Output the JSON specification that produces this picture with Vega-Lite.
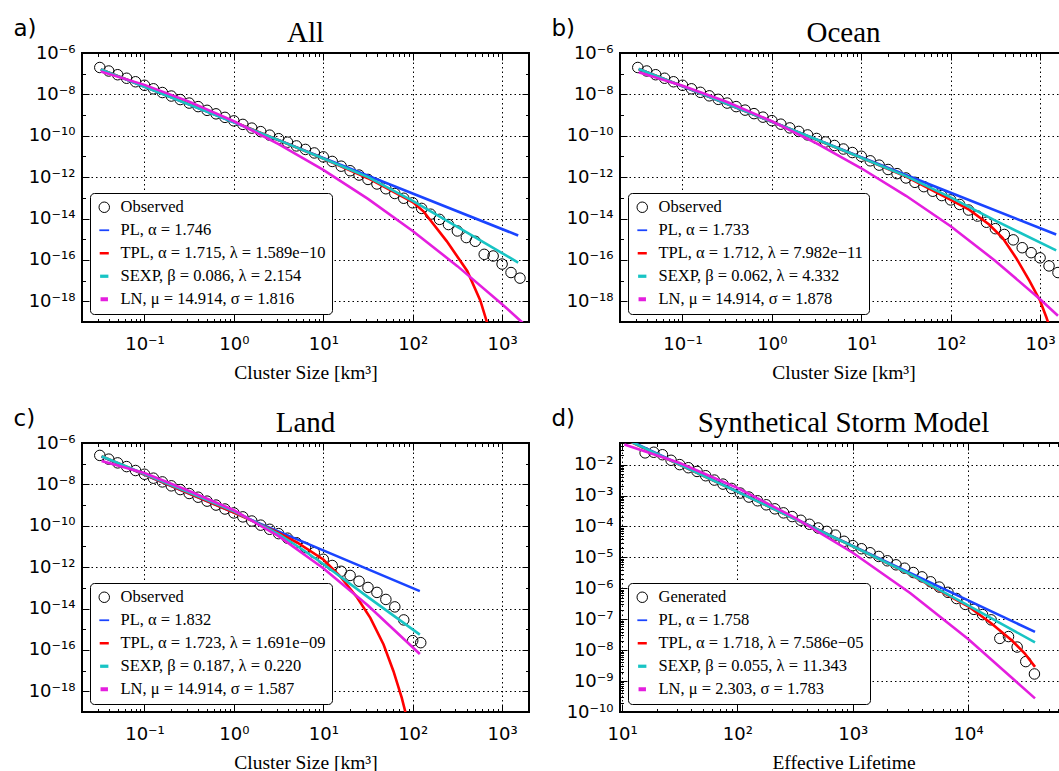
{
"$schema": "https://vega.github.io/schema/vega-lite/v6.json",
"background": "white",
"padding": {"left": 12, "top": 16, "right": 0, "bottom": 0},
"datasets": {
"a_obs": [
{"s":"Observed","x":0.03162,"y":1.995e-7},{"s":"Observed","x":0.03981,"y":1.349e-7},{"s":"Observed","x":0.05012,"y":8.913e-8},{"s":"Observed","x":0.0631,"y":6.026e-8},{"s":"Observed","x":0.07943,"y":4.074e-8},{"s":"Observed","x":0.1,"y":2.754e-8},{"s":"Observed","x":0.1259,"y":1.862e-8},{"s":"Observed","x":0.1585,"y":1.23e-8},{"s":"Observed","x":0.1995,"y":8.318e-9},{"s":"Observed","x":0.2512,"y":5.623e-9},{"s":"Observed","x":0.3162,"y":3.802e-9},{"s":"Observed","x":0.3981,"y":2.57e-9},{"s":"Observed","x":0.5012,"y":1.698e-9},{"s":"Observed","x":0.631,"y":1.148e-9},{"s":"Observed","x":0.7943,"y":7.762e-10},{"s":"Observed","x":1,"y":5.248e-10},{"s":"Observed","x":1.259,"y":3.548e-10},{"s":"Observed","x":1.585,"y":2.344e-10},{"s":"Observed","x":1.995,"y":1.585e-10},{"s":"Observed","x":2.512,"y":1.072e-10},{"s":"Observed","x":3.162,"y":7.244e-11},{"s":"Observed","x":3.981,"y":4.898e-11},{"s":"Observed","x":5.012,"y":3.236e-11},{"s":"Observed","x":6.31,"y":2.188e-11},{"s":"Observed","x":7.943,"y":1.479e-11},{"s":"Observed","x":10,"y":9.55e-12},{"s":"Observed","x":12.59,"y":5.754e-12},{"s":"Observed","x":15.85,"y":3.388e-12},{"s":"Observed","x":19.95,"y":2.042e-12},{"s":"Observed","x":25.12,"y":1.259e-12},{"s":"Observed","x":31.62,"y":7.762e-13},{"s":"Observed","x":39.81,"y":4.677e-13},{"s":"Observed","x":50.12,"y":2.754e-13},{"s":"Observed","x":63.1,"y":1.622e-13},{"s":"Observed","x":79.43,"y":9.55e-14},{"s":"Observed","x":100,"y":5.754e-14},{"s":"Observed","x":125.9,"y":3.09e-14},{"s":"Observed","x":158.5,"y":1.622e-14},{"s":"Observed","x":199.5,"y":9.12e-15},{"s":"Observed","x":251.2,"y":5.129e-15},{"s":"Observed","x":316.2,"y":2.512e-15},{"s":"Observed","x":398.1,"y":1.202e-15},{"s":"Observed","x":501.2,"y":7.943e-16},{"s":"Observed","x":631,"y":1.862e-16},{"s":"Observed","x":794.3,"y":1.549e-16},{"s":"Observed","x":1000,"y":6.31e-17},{"s":"Observed","x":1259,"y":2.455e-17},{"s":"Observed","x":1585,"y":1.318e-17}
],
"a_fit": [
{"s":"PL, α = 1.746","x":0.03243,"y":1.622e-7},{"s":"PL, α = 1.746","x":1,"y":4.467e-10},{"s":"PL, α = 1.746","x":10,"y":8.511e-12},{"s":"PL, α = 1.746","x":100,"y":1.622e-13},{"s":"PL, α = 1.746","x":1514,"y":1.514e-15},
{"s":"TPL, α = 1.715, λ = 1.589e−10","x":0.03243,"y":1.622e-7},{"s":"TPL, α = 1.715, λ = 1.589e−10","x":0.1,"y":2.399e-8},{"s":"TPL, α = 1.715, λ = 1.589e−10","x":1,"y":4.677e-10},{"s":"TPL, α = 1.715, λ = 1.589e−10","x":10,"y":7.943e-12},{"s":"TPL, α = 1.715, λ = 1.589e−10","x":31.62,"y":8.913e-13},{"s":"TPL, α = 1.715, λ = 1.589e−10","x":100,"y":6.31e-14},{"s":"TPL, α = 1.715, λ = 1.589e−10","x":131.8,"y":2.239e-14},{"s":"TPL, α = 1.715, λ = 1.589e−10","x":239.9,"y":8.128e-16},{"s":"TPL, α = 1.715, λ = 1.589e−10","x":407.4,"y":2.951e-17},{"s":"TPL, α = 1.715, λ = 1.589e−10","x":571.5,"y":1.072e-18},{"s":"TPL, α = 1.715, λ = 1.589e−10","x":676.1,"y":1e-19},{"s":"TPL, α = 1.715, λ = 1.589e−10","x":758.6,"y":1.585e-20},
{"s":"SEXP, β = 0.086, λ = 2.154","x":0.03243,"y":1.622e-7},{"s":"SEXP, β = 0.086, λ = 2.154","x":0.1,"y":2.344e-8},{"s":"SEXP, β = 0.086, λ = 2.154","x":1,"y":4.467e-10},{"s":"SEXP, β = 0.086, λ = 2.154","x":3.162,"y":6.166e-11},{"s":"SEXP, β = 0.086, λ = 2.154","x":10,"y":7.943e-12},{"s":"SEXP, β = 0.086, λ = 2.154","x":31.62,"y":1e-12},{"s":"SEXP, β = 0.086, λ = 2.154","x":100,"y":7.079e-14},{"s":"SEXP, β = 0.086, λ = 2.154","x":316.2,"y":3.981e-15},{"s":"SEXP, β = 0.086, λ = 2.154","x":1514,"y":7.413e-17},
{"s":"LN, μ = 14.914, σ = 1.816","x":0.03243,"y":1.288e-7},{"s":"LN, μ = 14.914, σ = 1.816","x":0.1,"y":2.884e-8},{"s":"LN, μ = 14.914, σ = 1.816","x":0.3162,"y":4.467e-9},{"s":"LN, μ = 14.914, σ = 1.816","x":1,"y":5.012e-10},{"s":"LN, μ = 14.914, σ = 1.816","x":3.162,"y":3.981e-11},{"s":"LN, μ = 14.914, σ = 1.816","x":10,"y":2.239e-12},{"s":"LN, μ = 14.914, σ = 1.816","x":31.62,"y":8.913e-14},{"s":"LN, μ = 14.914, σ = 1.816","x":100,"y":2.512e-15},{"s":"LN, μ = 14.914, σ = 1.816","x":316.2,"y":5.012e-17},{"s":"LN, μ = 14.914, σ = 1.816","x":1000,"y":7.244e-19},{"s":"LN, μ = 14.914, σ = 1.816","x":1995,"y":4.898e-20}
],
"b_obs": [
{"s":"Observed","x":0.03162,"y":1.995e-7},{"s":"Observed","x":0.03981,"y":1.349e-7},{"s":"Observed","x":0.05012,"y":8.913e-8},{"s":"Observed","x":0.0631,"y":6.026e-8},{"s":"Observed","x":0.07943,"y":4.074e-8},{"s":"Observed","x":0.1,"y":2.754e-8},{"s":"Observed","x":0.1259,"y":1.862e-8},{"s":"Observed","x":0.1585,"y":1.259e-8},{"s":"Observed","x":0.1995,"y":8.511e-9},{"s":"Observed","x":0.2512,"y":5.754e-9},{"s":"Observed","x":0.3162,"y":3.802e-9},{"s":"Observed","x":0.3981,"y":2.57e-9},{"s":"Observed","x":0.5012,"y":1.738e-9},{"s":"Observed","x":0.631,"y":1.175e-9},{"s":"Observed","x":0.7943,"y":7.943e-10},{"s":"Observed","x":1,"y":5.37e-10},{"s":"Observed","x":1.259,"y":3.631e-10},{"s":"Observed","x":1.585,"y":2.399e-10},{"s":"Observed","x":1.995,"y":1.622e-10},{"s":"Observed","x":2.512,"y":1.096e-10},{"s":"Observed","x":3.162,"y":7.413e-11},{"s":"Observed","x":3.981,"y":5.012e-11},{"s":"Observed","x":5.012,"y":3.388e-11},{"s":"Observed","x":6.31,"y":2.291e-11},{"s":"Observed","x":7.943,"y":1.549e-11},{"s":"Observed","x":10,"y":1.023e-11},{"s":"Observed","x":12.59,"y":6.166e-12},{"s":"Observed","x":15.85,"y":3.802e-12},{"s":"Observed","x":19.95,"y":2.344e-12},{"s":"Observed","x":25.12,"y":1.479e-12},{"s":"Observed","x":31.62,"y":9.12e-13},{"s":"Observed","x":39.81,"y":5.623e-13},{"s":"Observed","x":50.12,"y":3.467e-13},{"s":"Observed","x":63.1,"y":2.089e-13},{"s":"Observed","x":79.43,"y":1.288e-13},{"s":"Observed","x":100,"y":7.943e-14},{"s":"Observed","x":125.9,"y":4.786e-14},{"s":"Observed","x":158.5,"y":2.57e-14},{"s":"Observed","x":199.5,"y":1.318e-14},{"s":"Observed","x":251.2,"y":6.607e-15},{"s":"Observed","x":316.2,"y":3.236e-15},{"s":"Observed","x":398.1,"y":1.698e-15},{"s":"Observed","x":501.2,"y":9.333e-16},{"s":"Observed","x":631,"y":3.89e-16},{"s":"Observed","x":794.3,"y":2.239e-16},{"s":"Observed","x":1000,"y":1.259e-16},{"s":"Observed","x":1259,"y":5.129e-17},{"s":"Observed","x":1585,"y":2.455e-17}
],
"b_fit": [
{"s":"PL, α = 1.733","x":0.03236,"y":1.698e-7},{"s":"PL, α = 1.733","x":1,"y":4.786e-10},{"s":"PL, α = 1.733","x":10,"y":9.12e-12},{"s":"PL, α = 1.733","x":100,"y":1.778e-13},{"s":"PL, α = 1.733","x":1514,"y":1.698e-15},
{"s":"TPL, α = 1.712, λ = 7.982e−11","x":0.03236,"y":1.698e-7},{"s":"TPL, α = 1.712, λ = 7.982e−11","x":0.1,"y":2.512e-8},{"s":"TPL, α = 1.712, λ = 7.982e−11","x":1,"y":4.786e-10},{"s":"TPL, α = 1.712, λ = 7.982e−11","x":10,"y":8.71e-12},{"s":"TPL, α = 1.712, λ = 7.982e−11","x":31.62,"y":1.072e-12},{"s":"TPL, α = 1.712, λ = 7.982e−11","x":100,"y":7.943e-14},{"s":"TPL, α = 1.712, λ = 7.982e−11","x":160.7,"y":2.692e-14},{"s":"TPL, α = 1.712, λ = 7.982e−11","x":269.2,"y":5.129e-15},{"s":"TPL, α = 1.712, λ = 7.982e−11","x":380.2,"y":1.175e-15},{"s":"TPL, α = 1.712, λ = 7.982e−11","x":537,"y":1.288e-16},{"s":"TPL, α = 1.712, λ = 7.982e−11","x":758.6,"y":1e-17},{"s":"TPL, α = 1.712, λ = 7.982e−11","x":1000,"y":1.072e-18},{"s":"TPL, α = 1.712, λ = 7.982e−11","x":1175,"y":1.698e-19},{"s":"TPL, α = 1.712, λ = 7.982e−11","x":1318,"y":3.981e-20},
{"s":"SEXP, β = 0.062, λ = 4.332","x":0.03236,"y":1.698e-7},{"s":"SEXP, β = 0.062, λ = 4.332","x":0.1,"y":2.512e-8},{"s":"SEXP, β = 0.062, λ = 4.332","x":1,"y":4.786e-10},{"s":"SEXP, β = 0.062, λ = 4.332","x":3.162,"y":6.607e-11},{"s":"SEXP, β = 0.062, λ = 4.332","x":10,"y":8.71e-12},{"s":"SEXP, β = 0.062, λ = 4.332","x":31.62,"y":1.122e-12},{"s":"SEXP, β = 0.062, λ = 4.332","x":100,"y":1.047e-13},{"s":"SEXP, β = 0.062, λ = 4.332","x":316.2,"y":7.943e-15},{"s":"SEXP, β = 0.062, λ = 4.332","x":1514,"y":2.884e-16},
{"s":"LN, μ = 14.914, σ = 1.878","x":0.03236,"y":1.175e-7},{"s":"LN, μ = 14.914, σ = 1.878","x":0.1,"y":2.63e-8},{"s":"LN, μ = 14.914, σ = 1.878","x":0.3162,"y":4.266e-9},{"s":"LN, μ = 14.914, σ = 1.878","x":1,"y":5.012e-10},{"s":"LN, μ = 14.914, σ = 1.878","x":3.162,"y":4.266e-11},{"s":"LN, μ = 14.914, σ = 1.878","x":10,"y":2.692e-12},{"s":"LN, μ = 14.914, σ = 1.878","x":31.62,"y":1.259e-13},{"s":"LN, μ = 14.914, σ = 1.878","x":100,"y":4.266e-15},{"s":"LN, μ = 14.914, σ = 1.878","x":316.2,"y":8.913e-17},{"s":"LN, μ = 14.914, σ = 1.878","x":1000,"y":1.259e-18},{"s":"LN, μ = 14.914, σ = 1.878","x":1585,"y":1.995e-19}
],
"c_obs": [
{"s":"Observed","x":0.03162,"y":2.512e-7},{"s":"Observed","x":0.03981,"y":1.66e-7},{"s":"Observed","x":0.05012,"y":1.096e-7},{"s":"Observed","x":0.0631,"y":7.244e-8},{"s":"Observed","x":0.07943,"y":4.677e-8},{"s":"Observed","x":0.1,"y":3.09e-8},{"s":"Observed","x":0.1259,"y":1.995e-8},{"s":"Observed","x":0.1585,"y":1.318e-8},{"s":"Observed","x":0.1995,"y":8.511e-9},{"s":"Observed","x":0.2512,"y":5.623e-9},{"s":"Observed","x":0.3162,"y":3.631e-9},{"s":"Observed","x":0.3981,"y":2.399e-9},{"s":"Observed","x":0.5012,"y":1.549e-9},{"s":"Observed","x":0.631,"y":1e-9},{"s":"Observed","x":0.7943,"y":6.457e-10},{"s":"Observed","x":1,"y":4.169e-10},{"s":"Observed","x":1.259,"y":2.692e-10},{"s":"Observed","x":1.585,"y":1.698e-10},{"s":"Observed","x":1.995,"y":1.072e-10},{"s":"Observed","x":2.512,"y":6.761e-11},{"s":"Observed","x":3.162,"y":4.169e-11},{"s":"Observed","x":3.981,"y":2.512e-11},{"s":"Observed","x":5.012,"y":1.514e-11},{"s":"Observed","x":6.31,"y":8.913e-12},{"s":"Observed","x":7.943,"y":5.012e-12},{"s":"Observed","x":10,"y":2.399e-12},{"s":"Observed","x":12.59,"y":1.202e-12},{"s":"Observed","x":15.85,"y":6.31e-13},{"s":"Observed","x":19.95,"y":3.981e-13},{"s":"Observed","x":25.12,"y":2.089e-13},{"s":"Observed","x":31.62,"y":1.047e-13},{"s":"Observed","x":39.81,"y":6.026e-14},{"s":"Observed","x":50.12,"y":2.754e-14},{"s":"Observed","x":63.1,"y":1.202e-14},{"s":"Observed","x":79.43,"y":2.818e-15},{"s":"Observed","x":100,"y":2.818e-16},{"s":"Observed","x":123,"y":2.239e-16}
],
"c_fit": [
{"s":"PL, α = 1.832","x":0.03311,"y":2.188e-7},{"s":"PL, α = 1.832","x":1,"y":4.365e-10},{"s":"PL, α = 1.832","x":10,"y":6.457e-12},{"s":"PL, α = 1.832","x":120.2,"y":6.918e-14},
{"s":"TPL, α = 1.723, λ = 1.691e−09","x":0.03311,"y":2.291e-7},{"s":"TPL, α = 1.723, λ = 1.691e−09","x":0.1,"y":3.02e-8},{"s":"TPL, α = 1.723, λ = 1.691e−09","x":1,"y":4.365e-10},{"s":"TPL, α = 1.723, λ = 1.691e−09","x":3.162,"y":4.467e-11},{"s":"TPL, α = 1.723, λ = 1.691e−09","x":5.14,"y":1.514e-11},{"s":"TPL, α = 1.723, λ = 1.691e−09","x":10,"y":2.344e-12},{"s":"TPL, α = 1.723, λ = 1.691e−09","x":15.49,"y":3.548e-13},{"s":"TPL, α = 1.723, λ = 1.691e−09","x":23.99,"y":3.311e-14},{"s":"TPL, α = 1.723, λ = 1.691e−09","x":33.57,"y":3.548e-15},{"s":"TPL, α = 1.723, λ = 1.691e−09","x":47.21,"y":1.82e-16},{"s":"TPL, α = 1.723, λ = 1.691e−09","x":60.95,"y":9.333e-18},{"s":"TPL, α = 1.723, λ = 1.691e−09","x":75.51,"y":4.786e-19},{"s":"TPL, α = 1.723, λ = 1.691e−09","x":85.11,"y":6.31e-20},{"s":"TPL, α = 1.723, λ = 1.691e−09","x":91.2,"y":1.585e-20},
{"s":"SEXP, β = 0.187, λ = 0.220","x":0.03311,"y":2.291e-7},{"s":"SEXP, β = 0.187, λ = 0.220","x":0.1,"y":3.162e-8},{"s":"SEXP, β = 0.187, λ = 0.220","x":0.3162,"y":3.981e-9},{"s":"SEXP, β = 0.187, λ = 0.220","x":1,"y":5.012e-10},{"s":"SEXP, β = 0.187, λ = 0.220","x":3.162,"y":3.981e-11},{"s":"SEXP, β = 0.187, λ = 0.220","x":5.623,"y":7.943e-12},{"s":"SEXP, β = 0.187, λ = 0.220","x":10,"y":1.413e-12},{"s":"SEXP, β = 0.187, λ = 0.220","x":31.62,"y":3.548e-14},{"s":"SEXP, β = 0.187, λ = 0.220","x":120.2,"y":5.495e-16},
{"s":"LN, μ = 14.914, σ = 1.587","x":0.03311,"y":1.349e-7},{"s":"LN, μ = 14.914, σ = 1.587","x":0.1,"y":3.548e-8},{"s":"LN, μ = 14.914, σ = 1.587","x":0.3162,"y":4.786e-9},{"s":"LN, μ = 14.914, σ = 1.587","x":1,"y":5.623e-10},{"s":"LN, μ = 14.914, σ = 1.587","x":3.162,"y":3.162e-11},{"s":"LN, μ = 14.914, σ = 1.587","x":10,"y":8.913e-13},{"s":"LN, μ = 14.914, σ = 1.587","x":31.62,"y":1.413e-14},{"s":"LN, μ = 14.914, σ = 1.587","x":120.2,"y":6.31e-17}
],
"d_obs": [
{"s":"Generated","x":15.85,"y":2.399e-2},{"s":"Generated","x":18.84,"y":2.512e-2},{"s":"Generated","x":22.39,"y":2.089e-2},{"s":"Generated","x":26.61,"y":1.38e-2},{"s":"Generated","x":31.62,"y":1e-2},{"s":"Generated","x":37.58,"y":7.943e-3},{"s":"Generated","x":44.67,"y":6.026e-3},{"s":"Generated","x":53.09,"y":4.365e-3},{"s":"Generated","x":63.1,"y":3.162e-3},{"s":"Generated","x":74.99,"y":2.344e-3},{"s":"Generated","x":89.13,"y":1.698e-3},{"s":"Generated","x":105.9,"y":1.202e-3},{"s":"Generated","x":125.9,"y":8.913e-4},{"s":"Generated","x":149.6,"y":6.761e-4},{"s":"Generated","x":177.8,"y":5.012e-4},{"s":"Generated","x":211.3,"y":3.715e-4},{"s":"Generated","x":251.2,"y":2.754e-4},{"s":"Generated","x":298.5,"y":2.089e-4},{"s":"Generated","x":354.8,"y":1.585e-4},{"s":"Generated","x":421.7,"y":1.175e-4},{"s":"Generated","x":501.2,"y":8.913e-5},{"s":"Generated","x":595.7,"y":6.918e-5},{"s":"Generated","x":707.9,"y":5.248e-5},{"s":"Generated","x":841.4,"y":3.311e-5},{"s":"Generated","x":1000,"y":2.399e-5},{"s":"Generated","x":1189,"y":1.905e-5},{"s":"Generated","x":1413,"y":1.413e-5},{"s":"Generated","x":1679,"y":1.072e-5},{"s":"Generated","x":1995,"y":7.762e-6},{"s":"Generated","x":2371,"y":5.754e-6},{"s":"Generated","x":2818,"y":4.467e-6},{"s":"Generated","x":3350,"y":3.236e-6},{"s":"Generated","x":3981,"y":2.344e-6},{"s":"Generated","x":4732,"y":1.622e-6},{"s":"Generated","x":5623,"y":1.096e-6},{"s":"Generated","x":6683,"y":7.413e-7},{"s":"Generated","x":7943,"y":4.677e-7},{"s":"Generated","x":9441,"y":3.02e-7},{"s":"Generated","x":11220,"y":2.089e-7},{"s":"Generated","x":13340,"y":1.413e-7},{"s":"Generated","x":15850,"y":9.55e-8},{"s":"Generated","x":18840,"y":2.399e-8},{"s":"Generated","x":22390,"y":2.754e-8},{"s":"Generated","x":26610,"y":1.259e-8},{"s":"Generated","x":31620,"y":4.266e-9},{"s":"Generated","x":37580,"y":1.698e-9}
],
"d_fit": [
{"s":"PL, α = 1.758","x":10.47,"y":7.161e-2},{"s":"PL, α = 1.758","x":100,"y":1.349e-3},{"s":"PL, α = 1.758","x":1000,"y":2.344e-5},{"s":"PL, α = 1.758","x":10000,"y":4.074e-7},{"s":"PL, α = 1.758","x":38020,"y":3.89e-8},
{"s":"TPL, α = 1.718, λ = 7.586e−05","x":10.47,"y":6.761e-2},{"s":"TPL, α = 1.718, λ = 7.586e−05","x":100,"y":1.318e-3},{"s":"TPL, α = 1.718, λ = 7.586e−05","x":1000,"y":2.291e-5},{"s":"TPL, α = 1.718, λ = 7.586e−05","x":3162,"y":2.754e-6},{"s":"TPL, α = 1.718, λ = 7.586e−05","x":10000,"y":2.63e-7},{"s":"TPL, α = 1.718, λ = 7.586e−05","x":15850,"y":7.413e-8},{"s":"TPL, α = 1.718, λ = 7.586e−05","x":23990,"y":2.042e-8},{"s":"TPL, α = 1.718, λ = 7.586e−05","x":30900,"y":7.943e-9},{"s":"TPL, α = 1.718, λ = 7.586e−05","x":38020,"y":2.884e-9},
{"s":"SEXP, β = 0.055, λ = 11.343","x":10.47,"y":6.918e-2},{"s":"SEXP, β = 0.055, λ = 11.343","x":100,"y":1.318e-3},{"s":"SEXP, β = 0.055, λ = 11.343","x":1000,"y":2.291e-5},{"s":"SEXP, β = 0.055, λ = 11.343","x":3162,"y":2.818e-6},{"s":"SEXP, β = 0.055, λ = 11.343","x":10000,"y":2.818e-7},{"s":"SEXP, β = 0.055, λ = 11.343","x":38020,"y":1.778e-8},
{"s":"LN, μ = 2.303, σ = 1.783","x":10.47,"y":4.467e-2},{"s":"LN, μ = 2.303, σ = 1.783","x":31.62,"y":1.122e-2},{"s":"LN, μ = 2.303, σ = 1.783","x":100,"y":1.778e-3},{"s":"LN, μ = 2.303, σ = 1.783","x":316.2,"y":1.905e-4},{"s":"LN, μ = 2.303, σ = 1.783","x":1000,"y":1.413e-5},{"s":"LN, μ = 2.303, σ = 1.783","x":3162,"y":6.918e-7},{"s":"LN, μ = 2.303, σ = 1.783","x":10000,"y":2.291e-8},{"s":"LN, μ = 2.303, σ = 1.783","x":38020,"y":2.754e-10}
]
},
"columns": 2,
"spacing": {"row": 121, "column": 91},
"bounds": "flush",
"concat": [
{
"width": 447, "height": 269,
"title": {"text": "All"},
"layer": [
{"data": {"name": "a_obs"},
"mark": {"type": "point", "filled": false, "opacity": 1},
"encoding": {
"x": {"field": "x", "type": "quantitative", "scale": {"type": "log", "domain": [0.02, 2000], "nice": false},
"axis": {"orient": "bottom", "values": [0.02,0.03,0.04,0.05,0.06,0.07,0.08,0.09,0.1,0.2,0.3,0.4,0.5,0.6,0.7,0.8,0.9,1,2,3,4,5,6,7,8,9,10,20,30,40,50,60,70,80,90,100,200,300,400,500,600,700,800,900,1000,2000],
"labelExpr": "abs(log(datum.value)/LN10-round(log(datum.value)/LN10))<0.01?'10'+replace(replace(replace(replace(replace(replace(replace(replace(replace(replace(replace(toString(round(log(datum.value)/LN10)),'-','⁻'),regexp('0','g'),'⁰'),regexp('1','g'),'¹'),regexp('2','g'),'²'),regexp('3','g'),'³'),regexp('4','g'),'⁴'),regexp('5','g'),'⁵'),regexp('6','g'),'⁶'),regexp('7','g'),'⁷'),regexp('8','g'),'⁸'),regexp('9','g'),'⁹'):''",
"tickSize": {"condition": {"test": "abs(log(datum.value)/LN10-round(log(datum.value)/LN10))<0.01", "value": -7}, "value": -3.5},
"gridOpacity": {"condition": {"test": "abs(log(datum.value)/LN10-round(log(datum.value)/LN10))<0.01", "value": 1}, "value": 0},
"title": "Cluster Size [km³]", "titleY": 56, "titleBaseline": "alphabetic", "labelPadding": 20}},
"y": {"field": "y", "type": "quantitative", "scale": {"type": "log", "domain": [1e-19, 1e-6], "nice": false},
"axis": {"orient": "left", "values": [1e-19,1e-18,1e-17,1e-16,1e-15,1e-14,1e-13,1e-12,1e-11,1e-10,1e-9,1e-8,1e-7,1e-6],
"labelExpr": "abs(log(datum.value)/LN10-round(log(datum.value)/LN10))<0.01&&round(log(datum.value)/LN10)%2==0?'10'+replace(replace(replace(replace(replace(replace(replace(replace(replace(replace(replace(toString(round(log(datum.value)/LN10)),'-','⁻'),regexp('0','g'),'⁰'),regexp('1','g'),'¹'),regexp('2','g'),'²'),regexp('3','g'),'³'),regexp('4','g'),'⁴'),regexp('5','g'),'⁵'),regexp('6','g'),'⁶'),regexp('7','g'),'⁷'),regexp('8','g'),'⁸'),regexp('9','g'),'⁹'):''",
"tickSize": {"condition": {"test": "round(log(datum.value)/LN10)%2==0", "value": -7}, "value": -3.5},
"gridOpacity": {"condition": {"test": "round(log(datum.value)/LN10)%2==0", "value": 1}, "value": 0},
"title": "a)", "titleAngle": 0, "titleX": -69, "titleY": -18, "titleAlign": "left", "titleBaseline": "alphabetic", "titleFont": "DejaVu Sans", "titleFontSize": 23, "labelPadding": 14}},
"color": {"field": "s", "type": "nominal", "scale": {"domain": ["Observed","PL, α = 1.746","TPL, α = 1.715, λ = 1.589e−10","SEXP, β = 0.086, λ = 2.154","LN, μ = 14.914, σ = 1.816"], "range": ["black","#1a44ff","#ff0000","#18c4c4","#e41ede"]}, "legend": {"title": null, "orient": "bottom-left", "offset": 8}},
"shape": {"field": "s", "type": "nominal", "scale": {"domain": ["Observed","PL, α = 1.746","TPL, α = 1.715, λ = 1.589e−10","SEXP, β = 0.086, λ = 2.154","LN, μ = 14.914, σ = 1.816"], "range": ["circle","stroke","stroke","stroke","stroke"]}, "legend": {"title": null, "orient": "bottom-left", "offset": 8}},
"size": {"field": "s", "type": "nominal", "scale": {"domain": ["Observed","PL, α = 1.746","TPL, α = 1.715, λ = 1.589e−10","SEXP, β = 0.086, λ = 2.154","LN, μ = 14.914, σ = 1.816"], "range": [110,55,55,55,55]}, "legend": {"title": null, "orient": "bottom-left", "offset": 8}},
"strokeWidth": {"field": "s", "type": "nominal", "scale": {"domain": ["Observed","PL, α = 1.746","TPL, α = 1.715, λ = 1.589e−10","SEXP, β = 0.086, λ = 2.154","LN, μ = 14.914, σ = 1.816"], "range": [1,4,4,4,4]}, "legend": {"title": null, "orient": "bottom-left", "offset": 8}}
}},
{"data": {"name": "a_fit"},
"mark": {"type": "line", "strokeWidth": 2.6, "clip": true},
"encoding": {
"x": {"field": "x", "type": "quantitative", "scale": {"type": "log", "domain": [0.02, 2000], "nice": false},
"axis": {"orient": "top", "values": [0.02,0.03,0.04,0.05,0.06,0.07,0.08,0.09,0.1,0.2,0.3,0.4,0.5,0.6,0.7,0.8,0.9,1,2,3,4,5,6,7,8,9,10,20,30,40,50,60,70,80,90,100,200,300,400,500,600,700,800,900,1000,2000], "labels": false, "grid": false, "title": null,
"tickSize": {"condition": {"test": "abs(log(datum.value)/LN10-round(log(datum.value)/LN10))<0.01", "value": -7}, "value": -3.5}}},
"y": {"field": "y", "type": "quantitative", "scale": {"type": "log", "domain": [1e-19, 1e-6], "nice": false},
"axis": {"orient": "right", "values": [1e-19,1e-18,1e-17,1e-16,1e-15,1e-14,1e-13,1e-12,1e-11,1e-10,1e-9,1e-8,1e-7,1e-6], "labels": false, "grid": false, "title": null,
"tickSize": {"condition": {"test": "round(log(datum.value)/LN10)%2==0", "value": -7}, "value": -3.5}}},
"color": {"field": "s", "type": "nominal", "scale": {"domain": ["Observed","PL, α = 1.746","TPL, α = 1.715, λ = 1.589e−10","SEXP, β = 0.086, λ = 2.154","LN, μ = 14.914, σ = 1.816"], "range": ["black","#1a44ff","#ff0000","#18c4c4","#e41ede"]}, "legend": {"title": null, "orient": "bottom-left", "offset": 8}}
}}
],
"resolve": {"axis": {"x": "independent", "y": "independent"}}
},
{
"width": 447, "height": 269,
"title": {"text": "Ocean"},
"layer": [
{"data": {"name": "b_obs"},
"mark": {"type": "point", "filled": false, "opacity": 1},
"encoding": {
"x": {"field": "x", "type": "quantitative", "scale": {"type": "log", "domain": [0.02, 2000], "nice": false},
"axis": {"orient": "bottom", "values": [0.02,0.03,0.04,0.05,0.06,0.07,0.08,0.09,0.1,0.2,0.3,0.4,0.5,0.6,0.7,0.8,0.9,1,2,3,4,5,6,7,8,9,10,20,30,40,50,60,70,80,90,100,200,300,400,500,600,700,800,900,1000,2000],
"labelExpr": "abs(log(datum.value)/LN10-round(log(datum.value)/LN10))<0.01?'10'+replace(replace(replace(replace(replace(replace(replace(replace(replace(replace(replace(toString(round(log(datum.value)/LN10)),'-','⁻'),regexp('0','g'),'⁰'),regexp('1','g'),'¹'),regexp('2','g'),'²'),regexp('3','g'),'³'),regexp('4','g'),'⁴'),regexp('5','g'),'⁵'),regexp('6','g'),'⁶'),regexp('7','g'),'⁷'),regexp('8','g'),'⁸'),regexp('9','g'),'⁹'):''",
"tickSize": {"condition": {"test": "abs(log(datum.value)/LN10-round(log(datum.value)/LN10))<0.01", "value": -7}, "value": -3.5},
"gridOpacity": {"condition": {"test": "abs(log(datum.value)/LN10-round(log(datum.value)/LN10))<0.01", "value": 1}, "value": 0},
"title": "Cluster Size [km³]", "titleY": 56, "titleBaseline": "alphabetic", "labelPadding": 20}},
"y": {"field": "y", "type": "quantitative", "scale": {"type": "log", "domain": [1e-19, 1e-6], "nice": false},
"axis": {"orient": "left", "values": [1e-19,1e-18,1e-17,1e-16,1e-15,1e-14,1e-13,1e-12,1e-11,1e-10,1e-9,1e-8,1e-7,1e-6],
"labelExpr": "abs(log(datum.value)/LN10-round(log(datum.value)/LN10))<0.01&&round(log(datum.value)/LN10)%2==0?'10'+replace(replace(replace(replace(replace(replace(replace(replace(replace(replace(replace(toString(round(log(datum.value)/LN10)),'-','⁻'),regexp('0','g'),'⁰'),regexp('1','g'),'¹'),regexp('2','g'),'²'),regexp('3','g'),'³'),regexp('4','g'),'⁴'),regexp('5','g'),'⁵'),regexp('6','g'),'⁶'),regexp('7','g'),'⁷'),regexp('8','g'),'⁸'),regexp('9','g'),'⁹'):''",
"tickSize": {"condition": {"test": "round(log(datum.value)/LN10)%2==0", "value": -7}, "value": -3.5},
"gridOpacity": {"condition": {"test": "round(log(datum.value)/LN10)%2==0", "value": 1}, "value": 0},
"title": "b)", "titleAngle": 0, "titleX": -69, "titleY": -18, "titleAlign": "left", "titleBaseline": "alphabetic", "titleFont": "DejaVu Sans", "titleFontSize": 23, "labelPadding": 14}},
"color": {"field": "s", "type": "nominal", "scale": {"domain": ["Observed","PL, α = 1.733","TPL, α = 1.712, λ = 7.982e−11","SEXP, β = 0.062, λ = 4.332","LN, μ = 14.914, σ = 1.878"], "range": ["black","#1a44ff","#ff0000","#18c4c4","#e41ede"]}, "legend": {"title": null, "orient": "bottom-left", "offset": 8}},
"shape": {"field": "s", "type": "nominal", "scale": {"domain": ["Observed","PL, α = 1.733","TPL, α = 1.712, λ = 7.982e−11","SEXP, β = 0.062, λ = 4.332","LN, μ = 14.914, σ = 1.878"], "range": ["circle","stroke","stroke","stroke","stroke"]}, "legend": {"title": null, "orient": "bottom-left", "offset": 8}},
"size": {"field": "s", "type": "nominal", "scale": {"domain": ["Observed","PL, α = 1.733","TPL, α = 1.712, λ = 7.982e−11","SEXP, β = 0.062, λ = 4.332","LN, μ = 14.914, σ = 1.878"], "range": [110,55,55,55,55]}, "legend": {"title": null, "orient": "bottom-left", "offset": 8}},
"strokeWidth": {"field": "s", "type": "nominal", "scale": {"domain": ["Observed","PL, α = 1.733","TPL, α = 1.712, λ = 7.982e−11","SEXP, β = 0.062, λ = 4.332","LN, μ = 14.914, σ = 1.878"], "range": [1,4,4,4,4]}, "legend": {"title": null, "orient": "bottom-left", "offset": 8}}
}},
{"data": {"name": "b_fit"},
"mark": {"type": "line", "strokeWidth": 2.6, "clip": true},
"encoding": {
"x": {"field": "x", "type": "quantitative", "scale": {"type": "log", "domain": [0.02, 2000], "nice": false},
"axis": {"orient": "top", "values": [0.02,0.03,0.04,0.05,0.06,0.07,0.08,0.09,0.1,0.2,0.3,0.4,0.5,0.6,0.7,0.8,0.9,1,2,3,4,5,6,7,8,9,10,20,30,40,50,60,70,80,90,100,200,300,400,500,600,700,800,900,1000,2000], "labels": false, "grid": false, "title": null,
"tickSize": {"condition": {"test": "abs(log(datum.value)/LN10-round(log(datum.value)/LN10))<0.01", "value": -7}, "value": -3.5}}},
"y": {"field": "y", "type": "quantitative", "scale": {"type": "log", "domain": [1e-19, 1e-6], "nice": false},
"axis": {"orient": "right", "values": [1e-19,1e-18,1e-17,1e-16,1e-15,1e-14,1e-13,1e-12,1e-11,1e-10,1e-9,1e-8,1e-7,1e-6], "labels": false, "grid": false, "title": null,
"tickSize": {"condition": {"test": "round(log(datum.value)/LN10)%2==0", "value": -7}, "value": -3.5}}},
"color": {"field": "s", "type": "nominal", "scale": {"domain": ["Observed","PL, α = 1.733","TPL, α = 1.712, λ = 7.982e−11","SEXP, β = 0.062, λ = 4.332","LN, μ = 14.914, σ = 1.878"], "range": ["black","#1a44ff","#ff0000","#18c4c4","#e41ede"]}, "legend": {"title": null, "orient": "bottom-left", "offset": 8}}
}}
],
"resolve": {"axis": {"x": "independent", "y": "independent"}}
},
{
"width": 447, "height": 269,
"title": {"text": "Land"},
"layer": [
{"data": {"name": "c_obs"},
"mark": {"type": "point", "filled": false, "opacity": 1},
"encoding": {
"x": {"field": "x", "type": "quantitative", "scale": {"type": "log", "domain": [0.02, 2000], "nice": false},
"axis": {"orient": "bottom", "values": [0.02,0.03,0.04,0.05,0.06,0.07,0.08,0.09,0.1,0.2,0.3,0.4,0.5,0.6,0.7,0.8,0.9,1,2,3,4,5,6,7,8,9,10,20,30,40,50,60,70,80,90,100,200,300,400,500,600,700,800,900,1000,2000],
"labelExpr": "abs(log(datum.value)/LN10-round(log(datum.value)/LN10))<0.01?'10'+replace(replace(replace(replace(replace(replace(replace(replace(replace(replace(replace(toString(round(log(datum.value)/LN10)),'-','⁻'),regexp('0','g'),'⁰'),regexp('1','g'),'¹'),regexp('2','g'),'²'),regexp('3','g'),'³'),regexp('4','g'),'⁴'),regexp('5','g'),'⁵'),regexp('6','g'),'⁶'),regexp('7','g'),'⁷'),regexp('8','g'),'⁸'),regexp('9','g'),'⁹'):''",
"tickSize": {"condition": {"test": "abs(log(datum.value)/LN10-round(log(datum.value)/LN10))<0.01", "value": -7}, "value": -3.5},
"gridOpacity": {"condition": {"test": "abs(log(datum.value)/LN10-round(log(datum.value)/LN10))<0.01", "value": 1}, "value": 0},
"title": "Cluster Size [km³]", "titleY": 56, "titleBaseline": "alphabetic", "labelPadding": 20}},
"y": {"field": "y", "type": "quantitative", "scale": {"type": "log", "domain": [1e-19, 1e-6], "nice": false},
"axis": {"orient": "left", "values": [1e-19,1e-18,1e-17,1e-16,1e-15,1e-14,1e-13,1e-12,1e-11,1e-10,1e-9,1e-8,1e-7,1e-6],
"labelExpr": "abs(log(datum.value)/LN10-round(log(datum.value)/LN10))<0.01&&round(log(datum.value)/LN10)%2==0?'10'+replace(replace(replace(replace(replace(replace(replace(replace(replace(replace(replace(toString(round(log(datum.value)/LN10)),'-','⁻'),regexp('0','g'),'⁰'),regexp('1','g'),'¹'),regexp('2','g'),'²'),regexp('3','g'),'³'),regexp('4','g'),'⁴'),regexp('5','g'),'⁵'),regexp('6','g'),'⁶'),regexp('7','g'),'⁷'),regexp('8','g'),'⁸'),regexp('9','g'),'⁹'):''",
"tickSize": {"condition": {"test": "round(log(datum.value)/LN10)%2==0", "value": -7}, "value": -3.5},
"gridOpacity": {"condition": {"test": "round(log(datum.value)/LN10)%2==0", "value": 1}, "value": 0},
"title": "c)", "titleAngle": 0, "titleX": -69, "titleY": -18, "titleAlign": "left", "titleBaseline": "alphabetic", "titleFont": "DejaVu Sans", "titleFontSize": 23, "labelPadding": 14}},
"color": {"field": "s", "type": "nominal", "scale": {"domain": ["Observed","PL, α = 1.832","TPL, α = 1.723, λ = 1.691e−09","SEXP, β = 0.187, λ = 0.220","LN, μ = 14.914, σ = 1.587"], "range": ["black","#1a44ff","#ff0000","#18c4c4","#e41ede"]}, "legend": {"title": null, "orient": "bottom-left", "offset": 8}},
"shape": {"field": "s", "type": "nominal", "scale": {"domain": ["Observed","PL, α = 1.832","TPL, α = 1.723, λ = 1.691e−09","SEXP, β = 0.187, λ = 0.220","LN, μ = 14.914, σ = 1.587"], "range": ["circle","stroke","stroke","stroke","stroke"]}, "legend": {"title": null, "orient": "bottom-left", "offset": 8}},
"size": {"field": "s", "type": "nominal", "scale": {"domain": ["Observed","PL, α = 1.832","TPL, α = 1.723, λ = 1.691e−09","SEXP, β = 0.187, λ = 0.220","LN, μ = 14.914, σ = 1.587"], "range": [110,55,55,55,55]}, "legend": {"title": null, "orient": "bottom-left", "offset": 8}},
"strokeWidth": {"field": "s", "type": "nominal", "scale": {"domain": ["Observed","PL, α = 1.832","TPL, α = 1.723, λ = 1.691e−09","SEXP, β = 0.187, λ = 0.220","LN, μ = 14.914, σ = 1.587"], "range": [1,4,4,4,4]}, "legend": {"title": null, "orient": "bottom-left", "offset": 8}}
}},
{"data": {"name": "c_fit"},
"mark": {"type": "line", "strokeWidth": 2.6, "clip": true},
"encoding": {
"x": {"field": "x", "type": "quantitative", "scale": {"type": "log", "domain": [0.02, 2000], "nice": false},
"axis": {"orient": "top", "values": [0.02,0.03,0.04,0.05,0.06,0.07,0.08,0.09,0.1,0.2,0.3,0.4,0.5,0.6,0.7,0.8,0.9,1,2,3,4,5,6,7,8,9,10,20,30,40,50,60,70,80,90,100,200,300,400,500,600,700,800,900,1000,2000], "labels": false, "grid": false, "title": null,
"tickSize": {"condition": {"test": "abs(log(datum.value)/LN10-round(log(datum.value)/LN10))<0.01", "value": -7}, "value": -3.5}}},
"y": {"field": "y", "type": "quantitative", "scale": {"type": "log", "domain": [1e-19, 1e-6], "nice": false},
"axis": {"orient": "right", "values": [1e-19,1e-18,1e-17,1e-16,1e-15,1e-14,1e-13,1e-12,1e-11,1e-10,1e-9,1e-8,1e-7,1e-6], "labels": false, "grid": false, "title": null,
"tickSize": {"condition": {"test": "round(log(datum.value)/LN10)%2==0", "value": -7}, "value": -3.5}}},
"color": {"field": "s", "type": "nominal", "scale": {"domain": ["Observed","PL, α = 1.832","TPL, α = 1.723, λ = 1.691e−09","SEXP, β = 0.187, λ = 0.220","LN, μ = 14.914, σ = 1.587"], "range": ["black","#1a44ff","#ff0000","#18c4c4","#e41ede"]}, "legend": {"title": null, "orient": "bottom-left", "offset": 8}}
}}
],
"resolve": {"axis": {"x": "independent", "y": "independent"}}
},
{
"width": 447, "height": 269,
"title": {"text": "Synthetical Storm Model"},
"layer": [
{"data": {"name": "d_obs"},
"mark": {"type": "point", "filled": false, "opacity": 1},
"encoding": {
"x": {"field": "x", "type": "quantitative", "scale": {"type": "log", "domain": [9.6, 72000], "nice": false},
"axis": {"orient": "bottom", "values": [10,20,30,40,50,60,70,80,90,100,200,300,400,500,600,700,800,900,1000,2000,3000,4000,5000,6000,7000,8000,9000,10000,20000,30000,40000,50000,60000,70000],
"labelExpr": "abs(log(datum.value)/LN10-round(log(datum.value)/LN10))<0.01?'10'+replace(replace(replace(replace(replace(replace(replace(replace(replace(replace(replace(toString(round(log(datum.value)/LN10)),'-','⁻'),regexp('0','g'),'⁰'),regexp('1','g'),'¹'),regexp('2','g'),'²'),regexp('3','g'),'³'),regexp('4','g'),'⁴'),regexp('5','g'),'⁵'),regexp('6','g'),'⁶'),regexp('7','g'),'⁷'),regexp('8','g'),'⁸'),regexp('9','g'),'⁹'):''",
"tickSize": {"condition": {"test": "abs(log(datum.value)/LN10-round(log(datum.value)/LN10))<0.01", "value": -7}, "value": -3.5},
"gridOpacity": {"condition": {"test": "abs(log(datum.value)/LN10-round(log(datum.value)/LN10))<0.01", "value": 1}, "value": 0},
"title": "Effective Lifetime", "titleY": 56, "titleBaseline": "alphabetic", "labelPadding": 20}},
"y": {"field": "y", "type": "quantitative", "scale": {"type": "log", "domain": [1e-10, 0.05], "nice": false},
"axis": {"orient": "left", "values": [1e-10,2e-10,3e-10,4e-10,5e-10,6e-10,7e-10,8e-10,9e-10,1e-9,2e-9,3e-9,4e-9,5e-9,6e-9,7e-9,8e-9,9e-9,1e-8,2e-8,3e-8,4e-8,5e-8,6e-8,7e-8,8e-8,9e-8,1e-7,2e-7,3e-7,4e-7,5e-7,6e-7,7e-7,8e-7,9e-7,1e-6,2e-6,3e-6,4e-6,5e-6,6e-6,7e-6,8e-6,9e-6,1e-5,2e-5,3e-5,4e-5,5e-5,6e-5,7e-5,8e-5,9e-5,1e-4,2e-4,3e-4,4e-4,5e-4,6e-4,7e-4,8e-4,9e-4,1e-3,2e-3,3e-3,4e-3,5e-3,6e-3,7e-3,8e-3,9e-3,1e-2,2e-2,3e-2,4e-2,5e-2],
"labelExpr": "abs(log(datum.value)/LN10-round(log(datum.value)/LN10))<0.01?'10'+replace(replace(replace(replace(replace(replace(replace(replace(replace(replace(replace(toString(round(log(datum.value)/LN10)),'-','⁻'),regexp('0','g'),'⁰'),regexp('1','g'),'¹'),regexp('2','g'),'²'),regexp('3','g'),'³'),regexp('4','g'),'⁴'),regexp('5','g'),'⁵'),regexp('6','g'),'⁶'),regexp('7','g'),'⁷'),regexp('8','g'),'⁸'),regexp('9','g'),'⁹'):''",
"tickSize": {"condition": {"test": "abs(log(datum.value)/LN10-round(log(datum.value)/LN10))<0.01", "value": -7}, "value": -3.5},
"gridOpacity": {"condition": {"test": "abs(log(datum.value)/LN10-round(log(datum.value)/LN10))<0.01", "value": 1}, "value": 0},
"title": "d)", "titleAngle": 0, "titleX": -69, "titleY": -18, "titleAlign": "left", "titleBaseline": "alphabetic", "titleFont": "DejaVu Sans", "titleFontSize": 23, "labelPadding": 14}},
"color": {"field": "s", "type": "nominal", "scale": {"domain": ["Generated","PL, α = 1.758","TPL, α = 1.718, λ = 7.586e−05","SEXP, β = 0.055, λ = 11.343","LN, μ = 2.303, σ = 1.783"], "range": ["black","#1a44ff","#ff0000","#18c4c4","#e41ede"]}, "legend": {"title": null, "orient": "bottom-left", "offset": 8}},
"shape": {"field": "s", "type": "nominal", "scale": {"domain": ["Generated","PL, α = 1.758","TPL, α = 1.718, λ = 7.586e−05","SEXP, β = 0.055, λ = 11.343","LN, μ = 2.303, σ = 1.783"], "range": ["circle","stroke","stroke","stroke","stroke"]}, "legend": {"title": null, "orient": "bottom-left", "offset": 8}},
"size": {"field": "s", "type": "nominal", "scale": {"domain": ["Generated","PL, α = 1.758","TPL, α = 1.718, λ = 7.586e−05","SEXP, β = 0.055, λ = 11.343","LN, μ = 2.303, σ = 1.783"], "range": [110,55,55,55,55]}, "legend": {"title": null, "orient": "bottom-left", "offset": 8}},
"strokeWidth": {"field": "s", "type": "nominal", "scale": {"domain": ["Generated","PL, α = 1.758","TPL, α = 1.718, λ = 7.586e−05","SEXP, β = 0.055, λ = 11.343","LN, μ = 2.303, σ = 1.783"], "range": [1,4,4,4,4]}, "legend": {"title": null, "orient": "bottom-left", "offset": 8}}
}},
{"data": {"name": "d_fit"},
"mark": {"type": "line", "strokeWidth": 2.6, "clip": true},
"encoding": {
"x": {"field": "x", "type": "quantitative", "scale": {"type": "log", "domain": [9.6, 72000], "nice": false},
"axis": {"orient": "top", "values": [10,20,30,40,50,60,70,80,90,100,200,300,400,500,600,700,800,900,1000,2000,3000,4000,5000,6000,7000,8000,9000,10000,20000,30000,40000,50000,60000,70000], "labels": false, "grid": false, "title": null,
"tickSize": {"condition": {"test": "abs(log(datum.value)/LN10-round(log(datum.value)/LN10))<0.01", "value": -7}, "value": -3.5}}},
"y": {"field": "y", "type": "quantitative", "scale": {"type": "log", "domain": [1e-10, 0.05], "nice": false},
"axis": {"orient": "right", "values": [1e-10,2e-10,3e-10,4e-10,5e-10,6e-10,7e-10,8e-10,9e-10,1e-9,2e-9,3e-9,4e-9,5e-9,6e-9,7e-9,8e-9,9e-9,1e-8,2e-8,3e-8,4e-8,5e-8,6e-8,7e-8,8e-8,9e-8,1e-7,2e-7,3e-7,4e-7,5e-7,6e-7,7e-7,8e-7,9e-7,1e-6,2e-6,3e-6,4e-6,5e-6,6e-6,7e-6,8e-6,9e-6,1e-5,2e-5,3e-5,4e-5,5e-5,6e-5,7e-5,8e-5,9e-5,1e-4,2e-4,3e-4,4e-4,5e-4,6e-4,7e-4,8e-4,9e-4,1e-3,2e-3,3e-3,4e-3,5e-3,6e-3,7e-3,8e-3,9e-3,1e-2,2e-2,3e-2,4e-2,5e-2], "labels": false, "grid": false, "title": null,
"tickSize": {"condition": {"test": "abs(log(datum.value)/LN10-round(log(datum.value)/LN10))<0.01", "value": -7}, "value": -3.5}}},
"color": {"field": "s", "type": "nominal", "scale": {"domain": ["Generated","PL, α = 1.758","TPL, α = 1.718, λ = 7.586e−05","SEXP, β = 0.055, λ = 11.343","LN, μ = 2.303, σ = 1.783"], "range": ["black","#1a44ff","#ff0000","#18c4c4","#e41ede"]}, "legend": {"title": null, "orient": "bottom-left", "offset": 8}}
}}
],
"resolve": {"axis": {"x": "independent", "y": "independent"}}
}
],
"resolve": {"scale": {"x": "independent", "y": "independent", "color": "independent", "shape": "independent", "size": "independent", "strokeWidth": "independent"}, "legend": {"color": "independent", "shape": "independent", "size": "independent", "strokeWidth": "independent"}},
"config": {
"view": {"stroke": "black", "strokeWidth": 2},
"axis": {"domain": false, "labelFont": "DejaVu Sans", "labelFontSize": 18, "labelColor": "black", "tickColor": "black", "tickWidth": 1, "gridColor": "black", "gridDash": [1.5, 3], "gridWidth": 1, "labelFlush": false, "labelOverlap": false, "labelBound": false, "titleFont": "Liberation Serif", "titleFontSize": 19.5, "titleFontWeight": "normal", "titleColor": "black"},
"title": {"font": "Liberation Serif", "fontSize": 29, "fontWeight": "normal", "color": "black", "offset": -31, "baseline": "alphabetic"},
"legend": {"padding": 6, "rowPadding": 6, "labelFont": "Liberation Serif", "labelFontSize": 16.5, "labelColor": "black", "labelLimit": 400, "strokeColor": "black", "fillColor": "white", "cornerRadius": 4, "labelOffset": 8}
}
}
